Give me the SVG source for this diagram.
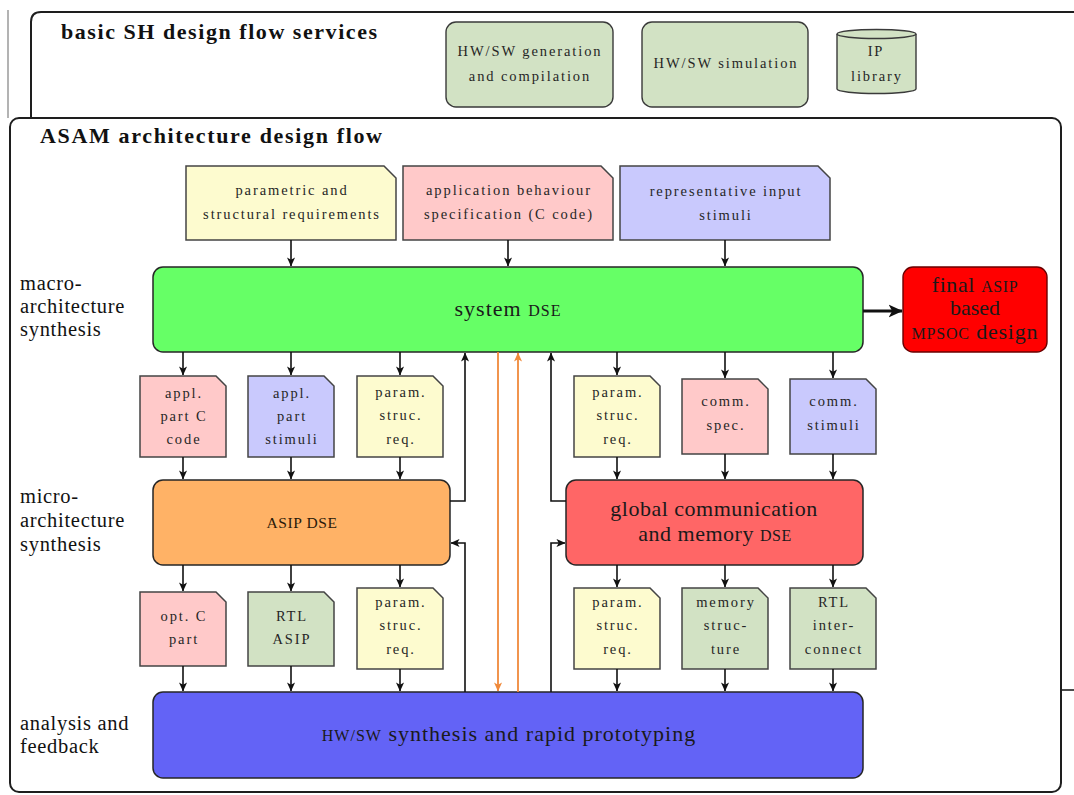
<svg xmlns="http://www.w3.org/2000/svg" width="1074" height="795" viewBox="0 0 1074 795">
  <style>
    .frame { fill: none; stroke: #1e1e1e; stroke-width: 2; }
    .box { stroke: #262626; stroke-width: 1.5; }
    .doc { stroke: #444; stroke-width: 1.5; }
    .svc { fill: #d2e2c4; stroke: #3a3a3a; stroke-width: 1.4; }
    .yel { fill: #fdfbcf; }
    .pnk { fill: #ffc9c9; }
    .lav { fill: #c9c9fd; }
    .grn { fill: #d2e2c4; }
    .wire { fill: none; stroke: #111; stroke-width: 1.6; }
    .owire { fill: none; stroke: #f0893a; stroke-width: 1.8; }
    .title { font-family: "Liberation Serif", "Times New Roman", serif; font-weight: bold; font-size: 22px; fill: #111; }
    .lbl { font-family: "Liberation Serif", "Times New Roman", serif; font-size: 20.5px; letter-spacing: 0.7px; fill: #111; }
    .big { font-family: "Liberation Serif", "Times New Roman", serif; font-size: 22px; fill: #1a1a1a; text-anchor: middle; }
    .mid { font-family: "Liberation Serif", "Times New Roman", serif; font-size: 15.5px; letter-spacing: 0.6px; fill: #2a1a0a; text-anchor: middle; }
    .small { font-family: "Liberation Serif", "Times New Roman", serif; font-size: 14.5px; letter-spacing: 1.9px; fill: #262626; text-anchor: middle; }
    .sc { font-size: 16px; }
  </style>
  <defs>
    <marker id="ah" viewBox="0 0 10 10" refX="9.5" refY="5" markerWidth="9" markerHeight="9" markerUnits="userSpaceOnUse" orient="auto">
      <path d="M0,0.5 L10,5 L0,9.5 L2.5,5 z" fill="#111"/>
    </marker>
    <marker id="oh" viewBox="0 0 10 10" refX="9.5" refY="5" markerWidth="9" markerHeight="9" markerUnits="userSpaceOnUse" orient="auto">
      <path d="M0,0.5 L10,5 L0,9.5 L2.5,5 z" fill="#f0893a"/>
    </marker>
    <marker id="bh" viewBox="0 0 10 10" refX="9.5" refY="5" markerWidth="14" markerHeight="14" markerUnits="userSpaceOnUse" orient="auto">
      <path d="M0,0.5 L10,5 L0,9.5 L2.5,5 z" fill="#111"/>
    </marker>
  </defs>

  <rect width="1074" height="795" fill="#fff"/>

  <!-- outer service frame (partly hidden behind the design flow frame) -->
  <g id="services-frame">
    <path d="M8,10 V118" fill="none" stroke="#9a9a9a" stroke-width="1.5"/>
    <path class="frame" d="M31,118 V22 Q31,12 41,12 H1074"/>
    <path d="M1061,690 H1074" fill="none" stroke="#1e1e1e" stroke-width="1.6"/>
    <text class="title" x="61" y="39" textLength="316">basic SH design flow services</text>
  </g>

  <g id="svc-gen">
    <rect class="svc" x="446" y="22" width="167" height="85" rx="10"/>
    <text class="small" x="530" y="56">HW/SW generation</text>
    <text class="small" x="530" y="81">and compilation</text>
  </g>
  <g id="svc-sim">
    <rect class="svc" x="642" y="22" width="166" height="85" rx="10"/>
    <text class="small" x="726" y="68">HW/SW simulation</text>
  </g>
  <g id="svc-iplib">
    <path class="svc" d="M837,34 V89 A39.5,4.5 0 0 0 916,89 V34"/>
    <ellipse class="svc" cx="876.5" cy="34" rx="39.5" ry="4.5"/>
    <text class="small" x="876" y="56">IP</text>
    <text class="small" x="877" y="81">library</text>
  </g>

  <!-- design flow frame -->
  <g id="asam-frame">
    <rect class="frame" x="10" y="118" width="1051" height="674" rx="9" fill="#fff"/>
    <text class="title" x="40" y="143" textLength="342">ASAM architecture design flow</text>
    <text class="lbl" x="20" y="290">macro-</text>
    <text class="lbl" x="20" y="313">architecture</text>
    <text class="lbl" x="20" y="336">synthesis</text>
    <text class="lbl" x="20" y="503">micro-</text>
    <text class="lbl" x="20" y="527">architecture</text>
    <text class="lbl" x="20" y="551">synthesis</text>
    <text class="lbl" x="20" y="730">analysis and</text>
    <text class="lbl" x="20" y="753">feedback</text>
  </g>

  <!-- input documents -->
  <g id="doc-req">
    <path class="doc yel" d="M186,166 H384 L396,178 V240 H186 Z"/>
    <text class="small" x="292" y="195">parametric and</text>
    <text class="small" x="292" y="219">structural requirements</text>
  </g>
  <g id="doc-spec">
    <path class="doc pnk" d="M403,166 H601 L613,178 V240 H403 Z"/>
    <text class="small" x="509" y="195">application behaviour</text>
    <text class="small" x="509" y="219">specification (C code)</text>
  </g>
  <g id="doc-stim">
    <path class="doc lav" d="M620,166 H818 L830,178 V240 H620 Z"/>
    <text class="small" x="726" y="196">representative input</text>
    <text class="small" x="726" y="220">stimuli</text>
  </g>

  <!-- main synthesis blocks -->
  <g id="system-dse">
    <rect class="box" x="153" y="267" width="710" height="85" rx="10" fill="#66ff66"/>
    <text class="big" x="508" y="316" letter-spacing="1">system <tspan class="sc">DSE</tspan></text>
  </g>
  <g id="final-design">
    <rect x="903" y="267" width="144" height="85" rx="10" fill="#ff0000" stroke="#6a0000" stroke-width="1.4"/>
    <text class="big" x="975" y="292" fill="#3a0000" letter-spacing="0.6">final <tspan class="sc">ASIP</tspan></text>
    <text class="big" x="975" y="315" fill="#3a0000">based</text>
    <text class="big" x="975" y="339" fill="#3a0000" letter-spacing="0.8"><tspan class="sc">MPSOC</tspan> design</text>
  </g>
  <g id="asip-dse">
    <rect class="box" x="153" y="480" width="297" height="85" rx="10" fill="#ffb266"/>
    <text class="mid" x="302" y="528">ASIP DSE</text>
  </g>
  <g id="comm-dse">
    <rect class="box" x="566" y="480" width="297" height="85" rx="10" fill="#ff6666"/>
    <text class="big" x="714" y="516" letter-spacing="0.5">global communication</text>
    <text class="big" x="715" y="541" letter-spacing="0.5">and memory <tspan class="sc">DSE</tspan></text>
  </g>
  <g id="hwsw-proto">
    <rect class="box" x="153" y="692" width="710" height="86" rx="10" fill="#6363f6"/>
    <text class="big" x="509" y="741" fill="#141450" letter-spacing="1"><tspan class="sc">HW/SW</tspan> synthesis and rapid prototyping</text>
  </g>

  <!-- documents between system DSE and the micro-architecture steps -->
  <g id="doc-cpart">
    <path class="doc pnk" d="M140,376 H216 L226,386 V457 H140 Z"/>
    <text class="small" x="184" y="398">appl.</text>
    <text class="small" x="184" y="421">part C</text>
    <text class="small" x="184" y="444">code</text>
  </g>
  <g id="doc-pstim">
    <path class="doc lav" d="M248,376 H324 L334,386 V457 H248 Z"/>
    <text class="small" x="292" y="398">appl.</text>
    <text class="small" x="292" y="421">part</text>
    <text class="small" x="292" y="444">stimuli</text>
  </g>
  <g id="doc-req-a">
    <path class="doc yel" d="M357,376 H433 L443,386 V457 H357 Z"/>
    <text class="small" x="401" y="397">param.</text>
    <text class="small" x="401" y="420">struc.</text>
    <text class="small" x="401" y="444">req.</text>
  </g>
  <g id="doc-req-b">
    <path class="doc yel" d="M574,376 H650 L660,386 V457 H574 Z"/>
    <text class="small" x="618" y="397">param.</text>
    <text class="small" x="618" y="420">struc.</text>
    <text class="small" x="618" y="444">req.</text>
  </g>
  <g id="doc-cspec">
    <path class="doc pnk" d="M682,379 H758 L768,389 V454 H682 Z"/>
    <text class="small" x="726" y="406">comm.</text>
    <text class="small" x="726" y="430">spec.</text>
  </g>
  <g id="doc-cstim">
    <path class="doc lav" d="M790,379 H866 L876,389 V454 H790 Z"/>
    <text class="small" x="834" y="406">comm.</text>
    <text class="small" x="834" y="430">stimuli</text>
  </g>

  <!-- documents produced by the micro-architecture steps -->
  <g id="doc-optc">
    <path class="doc pnk" d="M140,592 H216 L226,602 V666 H140 Z"/>
    <text class="small" x="184" y="621">opt. C</text>
    <text class="small" x="184" y="644">part</text>
  </g>
  <g id="doc-rtlasip">
    <path class="doc grn" d="M248,592 H324 L334,602 V666 H248 Z"/>
    <text class="small" x="292" y="621">RTL</text>
    <text class="small" x="292" y="644">ASIP</text>
  </g>
  <g id="doc-req-c">
    <path class="doc yel" d="M357,588 H433 L443,598 V669 H357 Z"/>
    <text class="small" x="401" y="607">param.</text>
    <text class="small" x="401" y="630">struc.</text>
    <text class="small" x="401" y="654">req.</text>
  </g>
  <g id="doc-req-d">
    <path class="doc yel" d="M574,588 H650 L660,598 V669 H574 Z"/>
    <text class="small" x="618" y="607">param.</text>
    <text class="small" x="618" y="630">struc.</text>
    <text class="small" x="618" y="654">req.</text>
  </g>
  <g id="doc-mem">
    <path class="doc grn" d="M682,588 H758 L768,598 V669 H682 Z"/>
    <text class="small" x="726" y="607">memory</text>
    <text class="small" x="726" y="630">struc-</text>
    <text class="small" x="726" y="654">ture</text>
  </g>
  <g id="doc-rtlic">
    <path class="doc grn" d="M790,588 H866 L876,598 V669 H790 Z"/>
    <text class="small" x="834" y="607">RTL</text>
    <text class="small" x="834" y="630">inter-</text>
    <text class="small" x="834" y="654">connect</text>
  </g>

  <!-- connectors -->
  <g id="connectors">
    <g class="wire" marker-end="url(#ah)">
      <path d="M291,240 V266"/>
      <path d="M508,240 V266"/>
      <path d="M725,240 V266"/>

      <path d="M183,352 V375"/>
      <path d="M291,352 V375"/>
      <path d="M400,352 V375"/>
      <path d="M617,352 V375"/>
      <path d="M725,352 V378"/>
      <path d="M833,352 V378"/>

      <path d="M183,457 V479"/>
      <path d="M291,457 V479"/>
      <path d="M400,457 V479"/>
      <path d="M617,457 V479"/>
      <path d="M725,454 V479"/>
      <path d="M833,454 V479"/>

      <path d="M183,565 V591"/>
      <path d="M291,565 V591"/>
      <path d="M400,565 V587"/>
      <path d="M617,565 V587"/>
      <path d="M725,565 V587"/>
      <path d="M833,565 V587"/>

      <path d="M183,666 V691"/>
      <path d="M291,666 V691"/>
      <path d="M400,669 V691"/>
      <path d="M617,669 V691"/>
      <path d="M725,669 V691"/>
      <path d="M833,669 V691"/>

      <path d="M450,501 H465 V353"/>
      <path d="M465,692 V543 H451"/>
      <path d="M566,501 H551 V353"/>
      <path d="M551,692 V543 H565"/>
    </g>
    <path class="owire" d="M498,352 V691" marker-end="url(#oh)"/>
    <path class="owire" d="M518,692 V353" marker-end="url(#oh)"/>
    <path d="M863,311 H902" fill="none" stroke="#111" stroke-width="3" marker-end="url(#bh)"/>
  </g>
</svg>
